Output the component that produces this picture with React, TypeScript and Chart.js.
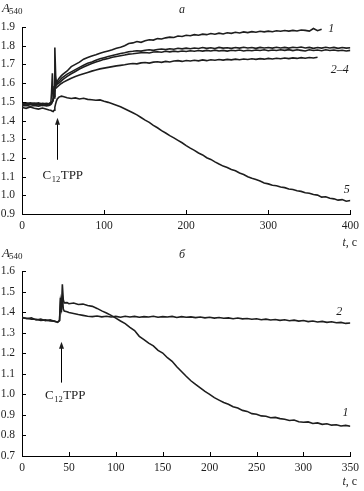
import React, { useEffect, useRef } from "react";
import { Chart, registerables } from "chart.js";

Chart.register(...registerables);

// ---------- Panel а ----------
const timesA = [
  0, 5, 10, 15, 20, 25, 30, 33, 35, 36, 37, 38, 39, 40, 41, 42, 43, 45, 48,
  50, 55, 60, 65, 70, 75, 80, 85, 90, 95, 100, 105, 110, 115, 120, 125, 130, 135, 140, 145,
  150, 155, 160, 165, 170, 175, 180, 185, 190, 195, 200, 205, 210, 215, 220, 225, 230, 235,
  240, 245, 250, 255, 260, 265, 270, 275, 280, 285, 290, 295, 300, 305, 310, 315, 320, 325,
  330, 335, 340, 345, 350, 355, 360, 365, 370, 375, 380, 385, 390, 395, 400,
];

const curveA1 = [
  1.492, 1.488, 1.495, 1.49, 1.494, 1.487, 1.492, 1.49, 1.496, 1.498, 1.5, 1.51, 1.56, 1.79, 1.64, 1.6, 1.61, 1.625, 1.64,
  1.648, 1.665, 1.688, 1.7, 1.712, 1.728, 1.737, 1.745, 1.752, 1.76, 1.766, 1.772, 1.778, 1.786, 1.792, 1.8, 1.812, 1.815, 1.822, 1.818,
  1.826, 1.832, 1.83, 1.838, 1.836, 1.842, 1.846, 1.844, 1.852, 1.849, 1.856, 1.853, 1.859, 1.856, 1.862, 1.859, 1.865, 1.861,
  1.867, 1.863, 1.869, 1.866, 1.872, 1.868, 1.874, 1.87, 1.875, 1.872, 1.877, 1.874, 1.878, 1.875, 1.88, 1.877, 1.881, 1.878,
  1.882, 1.879, 1.884, 1.882, 1.878, 1.892, 1.88, 1.888,
];

const curveA2 = [
  1.485, 1.482, 1.488, 1.484, 1.486, 1.481, 1.485, 1.483, 1.487, 1.49, 1.5, 1.52, 1.58, 1.62, 1.6, 1.595, 1.6, 1.61, 1.625,
  1.632, 1.648, 1.66, 1.672, 1.684, 1.695, 1.706, 1.713, 1.722, 1.73, 1.736, 1.742, 1.748, 1.753, 1.758, 1.762, 1.768, 1.77, 1.773, 1.771,
  1.776, 1.778, 1.775, 1.78, 1.782, 1.779, 1.784, 1.781, 1.786, 1.783, 1.787, 1.784, 1.788, 1.785, 1.79, 1.786, 1.789, 1.785,
  1.791, 1.787, 1.789, 1.786, 1.79, 1.787, 1.792, 1.788, 1.79, 1.786, 1.791, 1.788, 1.79, 1.787, 1.792, 1.788, 1.791, 1.787,
  1.792, 1.789, 1.793, 1.788, 1.791, 1.786, 1.79, 1.787, 1.792, 1.788, 1.791, 1.786, 1.79, 1.787, 1.789,
];

const curveA3 = [
  1.478, 1.481, 1.476, 1.48, 1.477, 1.482, 1.478, 1.48, 1.485, 1.55, 1.652, 1.53, 1.52, 1.58, 1.6, 1.59, 1.595, 1.6, 1.612,
  1.62, 1.636, 1.65, 1.662, 1.675, 1.686, 1.696, 1.705, 1.713, 1.72, 1.727, 1.732, 1.738, 1.742, 1.746, 1.75, 1.755, 1.757, 1.76, 1.762,
  1.764, 1.761, 1.766, 1.768, 1.765, 1.77, 1.767, 1.771, 1.768, 1.772, 1.769, 1.773, 1.77, 1.774, 1.771, 1.775, 1.772, 1.776,
  1.772, 1.775, 1.771, 1.776, 1.773, 1.777, 1.772, 1.776, 1.773, 1.777, 1.774, 1.778, 1.773, 1.777, 1.774, 1.778, 1.775, 1.779,
  1.774, 1.778, 1.775, 1.772, 1.778, 1.774, 1.777, 1.773, 1.778, 1.774, 1.777, 1.773, 1.776, 1.772, 1.775,
];

const curveA4 = [
  1.49, 1.494, 1.489, 1.493, 1.488, 1.492, 1.489, 1.491, 1.493, 1.495, 1.5, 1.51, 1.53, 1.57, 1.58, 1.575, 1.58, 1.588, 1.598,
  1.604, 1.615, 1.626, 1.635, 1.643, 1.65, 1.657, 1.664, 1.67, 1.676, 1.68, 1.684, 1.688, 1.692, 1.695, 1.698, 1.702, 1.705, 1.703, 1.708,
  1.71, 1.707, 1.712, 1.714, 1.711, 1.716, 1.713, 1.718, 1.72, 1.716, 1.721, 1.718, 1.722, 1.719, 1.724, 1.72, 1.725, 1.722,
  1.726, 1.723, 1.727, 1.724, 1.728, 1.725, 1.729, 1.726, 1.73, 1.727, 1.731, 1.728, 1.732, 1.729, 1.733, 1.73, 1.734, 1.731,
  1.735, 1.732, 1.736, 1.733, 1.737, 1.734, 1.738,
];

const curveA5 = [
  1.47, 1.465, 1.472, 1.466, 1.461, 1.467, 1.46, 1.456, 1.455, 1.452, 1.45, 1.448, 1.455, 1.47, 1.49, 1.505, 1.515, 1.525, 1.53,
  1.528, 1.522, 1.518, 1.521, 1.515, 1.519, 1.513, 1.511, 1.508, 1.51, 1.503, 1.497, 1.49, 1.482, 1.474, 1.463, 1.452, 1.441, 1.43, 1.416,
  1.402, 1.39, 1.374, 1.361, 1.346, 1.333, 1.319, 1.307, 1.294, 1.281, 1.266, 1.252, 1.24, 1.226, 1.216, 1.201, 1.192, 1.179,
  1.167, 1.156, 1.149, 1.138, 1.131, 1.119, 1.111, 1.099, 1.091, 1.084, 1.076, 1.066, 1.061, 1.054, 1.051, 1.044, 1.041, 1.034,
  1.031, 1.024, 1.021, 1.014, 1.011, 1.004, 1.001, 0.99, 0.992, 0.984, 0.981, 0.974, 0.977, 0.968, 0.972,
];

const xTicksA = [0, 100, 200, 300, 400];
const yTicksA = [0.9, 1.0, 1.1, 1.2, 1.3, 1.4, 1.5, 1.6, 1.7, 1.8, 1.9];
const labelsA = [
  { text: "1", t: 373, a: 1.889 },
  { text: "2–4", t: 376, a: 1.67 },
  { text: "5", t: 392, a: 1.028 },
];

// ---------- Panel б ----------
const timesB = [
  0, 5, 10, 15, 20, 25, 30, 35, 38, 40, 41, 42, 43, 44, 45, 48, 50,
  55, 60, 65, 70, 75, 80, 85, 90, 95, 100, 105, 110, 115, 120, 125, 130, 135, 140, 145, 150,
  155, 160, 165, 170, 175, 180, 185, 190, 195, 200, 205, 210, 215, 220, 225, 230, 235, 240, 245, 250,
  255, 260, 265, 270, 275, 280, 285, 290, 295, 300, 305, 310, 315, 320, 325, 330, 335, 340, 345, 350,
];

const curveB1 = [
  1.375, 1.368, 1.372, 1.362, 1.366, 1.358, 1.362, 1.354, 1.352, 1.36, 1.47, 1.4, 1.535, 1.46, 1.445, 1.446, 1.441,
  1.444, 1.437, 1.439, 1.432, 1.428, 1.418, 1.406, 1.396, 1.384, 1.371, 1.357, 1.344, 1.326, 1.31, 1.282, 1.266, 1.249, 1.236, 1.214, 1.201,
  1.178, 1.161, 1.134, 1.111, 1.088, 1.066, 1.048, 1.031, 1.014, 1.0, 0.984, 0.972, 0.96, 0.952, 0.94, 0.933, 0.922, 0.917, 0.906, 0.903,
  0.895, 0.893, 0.886, 0.888, 0.882, 0.879, 0.873, 0.875, 0.867, 0.864, 0.866, 0.858, 0.861, 0.854, 0.857, 0.85, 0.852, 0.846, 0.849, 0.845,
];

const curveB2 = [
  1.372, 1.37, 1.366, 1.365, 1.36, 1.362, 1.357, 1.356, 1.35, 1.358, 1.45, 1.42, 1.48, 1.415, 1.405, 1.402, 1.398,
  1.393, 1.388, 1.384, 1.38, 1.378, 1.381, 1.377, 1.38, 1.376, 1.379, 1.375, 1.38, 1.376, 1.379, 1.375, 1.378, 1.376, 1.38, 1.375, 1.378,
  1.376, 1.379, 1.374, 1.378, 1.375, 1.377, 1.373, 1.376, 1.372, 1.375, 1.371, 1.374, 1.37, 1.372, 1.368, 1.371, 1.367, 1.369, 1.365, 1.368,
  1.363, 1.366, 1.362, 1.364, 1.36, 1.363, 1.358, 1.361, 1.356, 1.359, 1.354, 1.357, 1.352, 1.355, 1.35, 1.353, 1.348, 1.35, 1.345, 1.347,
];

const xTicksB = [0, 50, 100, 150, 200, 250, 300, 350];
const yTicksB = [0.7, 0.8, 0.9, 1.0, 1.1, 1.2, 1.3, 1.4, 1.5, 1.6];
const labelsB = [
  { text: "2", t: 335, a: 1.402 },
  { text: "1", t: 341.5, a: 0.911 },
];

const SERIF = '"Liberation Serif", "DejaVu Serif", "Times New Roman", serif';
const INK = "#1e1e1e";

type PanelSpec = {
  times: number[];
  series: number[][];
  xMin: number;
  xMax: number;
  yMin: number;
  yMax: number;
  xTicks: number[];
  yTicks: number[];
  padTop: number;
  xAxisH: number;
  letter: string;
  letterX: number;
  letterY: number;
  tcY: number;
  labels: { text: string; t: number; a: number }[];
  arrow: { t: number; from: number; to: number; textT: number; textA: number };
};

function toPoints(times: number[], vals: number[]) {
  return vals.map((v, i) => ({ x: times[i], y: v }));
}

function makeOverlay(p: PanelSpec) {
  return {
    id: "overlay",
    afterDraw(chart: any) {
      const ctx: CanvasRenderingContext2D = chart.ctx;
      const xs = chart.scales.x;
      const ys = chart.scales.y;
      const area = chart.chartArea;
      ctx.save();
      ctx.strokeStyle = "#000";
      ctx.fillStyle = INK;
      ctx.lineWidth = 1;
      // inward ticks
      ctx.beginPath();
      p.xTicks.forEach((v) => {
        if (v === p.xMin) return;
        const px = Math.round(xs.getPixelForValue(v)) + 0.5;
        ctx.moveTo(px, area.bottom);
        ctx.lineTo(px, area.bottom - 4);
      });
      p.yTicks.forEach((v) => {
        if (v === p.yMin) return;
        const py = Math.round(ys.getPixelForValue(v)) + 0.5;
        ctx.moveTo(area.left, py);
        ctx.lineTo(area.left + 4, py);
      });
      ctx.stroke();

      ctx.textBaseline = "alphabetic";
      ctx.textAlign = "left";
      // A540 title
      ctx.font = `italic 13px ${SERIF}`;
      ctx.fillText("A", 2, 12);
      const wA = ctx.measureText("A").width;
      ctx.font = `9px ${SERIF}`;
      ctx.fillText("540", 2 + wA - 1, 14);

      // panel letter
      ctx.font = `italic 12px ${SERIF}`;
      ctx.textAlign = "center";
      ctx.fillText(p.letter, p.letterX, p.letterY);

      // t, с
      ctx.textAlign = "left";
      const tx = area.right - 8;
      ctx.font = `italic 12px ${SERIF}`;
      ctx.fillText("t", tx, p.tcY);
      const wt = ctx.measureText("t").width;
      ctx.font = `12px ${SERIF}`;
      ctx.fillText(", с", tx + wt, p.tcY);

      // curve labels
      ctx.font = `italic 12px ${SERIF}`;
      ctx.textBaseline = "middle";
      p.labels.forEach((l) => {
        ctx.fillText(l.text, xs.getPixelForValue(l.t), ys.getPixelForValue(l.a));
      });

      // arrow
      const ax = Math.round(xs.getPixelForValue(p.arrow.t)) + 0.5;
      const yFrom = ys.getPixelForValue(p.arrow.from);
      const yTo = ys.getPixelForValue(p.arrow.to);
      ctx.beginPath();
      ctx.moveTo(ax, yFrom);
      ctx.lineTo(ax, yTo + 5);
      ctx.stroke();
      ctx.beginPath();
      ctx.moveTo(ax, yTo);
      ctx.lineTo(ax - 2.5, yTo + 7);
      ctx.lineTo(ax + 2.5, yTo + 7);
      ctx.closePath();
      ctx.fill();

      // C12TPP
      ctx.textBaseline = "alphabetic";
      let cx = xs.getPixelForValue(p.arrow.textT);
      const cy = ys.getPixelForValue(p.arrow.textA);
      ctx.font = `13px ${SERIF}`;
      ctx.fillText("C", cx, cy);
      cx += ctx.measureText("C").width + 0.5;
      ctx.font = `8.5px ${SERIF}`;
      ctx.fillText("12", cx, cy + 3);
      cx += ctx.measureText("12").width + 0.5;
      ctx.font = `13px ${SERIF}`;
      ctx.fillText("TPP", cx, cy);
      ctx.restore();
    },
  };
}

function buildConfig(p: PanelSpec): any {
  const tickFont = { family: SERIF, size: 11.5 };
  return {
    type: "line",
    data: {
      datasets: p.series.map((s) => ({
        data: toPoints(p.times, s),
        borderColor: INK,
        borderWidth: 1.6,
        pointRadius: 0,
        tension: 0,
        fill: false,
      })),
    },
    options: {
      animation: false,
      responsive: false,
      devicePixelRatio: 1,
      layout: { padding: { top: p.padTop, right: 11, left: 0, bottom: 0 } },
      plugins: { legend: { display: false }, tooltip: { enabled: false } },
      scales: {
        x: {
          type: "linear",
          min: p.xMin,
          max: p.xMax,
          afterBuildTicks: (s: any) => {
            s.ticks = p.xTicks.map((v) => ({ value: v }));
          },
          afterFit: (s: any) => {
            s.height = p.xAxisH;
          },
          ticks: {
            font: tickFont,
            color: INK,
            padding: 5,
            maxRotation: 0,
            autoSkip: false,
            callback: (v: any) => String(v),
          },
          grid: { display: false, drawTicks: false },
          border: { display: true, color: "#000", width: 1 },
        },
        y: {
          type: "linear",
          min: p.yMin,
          max: p.yMax,
          afterBuildTicks: (s: any) => {
            s.ticks = p.yTicks.map((v) => ({ value: v }));
          },
          afterFit: (s: any) => {
            s.width = 22;
          },
          ticks: {
            font: tickFont,
            color: INK,
            padding: 7,
            autoSkip: false,
            callback: (v: any) => Number(v).toFixed(1),
          },
          grid: { display: false, drawTicks: false },
          border: { display: true, color: "#000", width: 1 },
        },
      },
    },
    plugins: [makeOverlay(p)],
  };
}

const panelA: PanelSpec = {
  times: timesA,
  series: [curveA1, curveA2, curveA3, curveA4, curveA5],
  xMin: 0,
  xMax: 400,
  yMin: 0.9,
  yMax: 1.9,
  xTicks: xTicksA,
  yTicks: yTicksA,
  padTop: 27,
  xAxisH: 36,
  letter: "а",
  letterX: 182,
  letterY: 13,
  tcY: 246,
  labels: labelsA,
  arrow: { t: 42.5, from: 1.19, to: 1.415, textT: 25, textA: 1.087 },
};

const panelB: PanelSpec = {
  times: timesB,
  series: [curveB1, curveB2],
  xMin: 0,
  xMax: 350,
  yMin: 0.7,
  yMax: 1.6,
  xTicks: xTicksB,
  yTicks: yTicksB,
  padTop: 26,
  xAxisH: 35,
  letter: "б",
  letterX: 182,
  letterY: 13,
  tcY: 240,
  labels: labelsB,
  arrow: { t: 41.2, from: 1.057, to: 1.256, textT: 24.5, textA: 0.977 },
};

function Panel({ spec, top, height }: { spec: PanelSpec; top: number; height: number }) {
  const ref = useRef<HTMLCanvasElement | null>(null);
  useEffect(() => {
    if (!ref.current) return;
    const chart = new Chart(ref.current, buildConfig(spec));
    return () => chart.destroy();
  }, [spec]);
  return (
    <canvas
      ref={ref}
      width={364}
      height={height}
      style={{ position: "absolute", left: 0, top, width: 364, height, display: "block" }}
    />
  );
}

export default function App() {
  return (
    <div style={{ position: "fixed", left: 0, top: 0, width: 364, height: 491, background: "#fff" }}>
      <Panel spec={panelA} top={0} height={250} />
      <Panel spec={panelB} top={245} height={246} />
    </div>
  );
}
